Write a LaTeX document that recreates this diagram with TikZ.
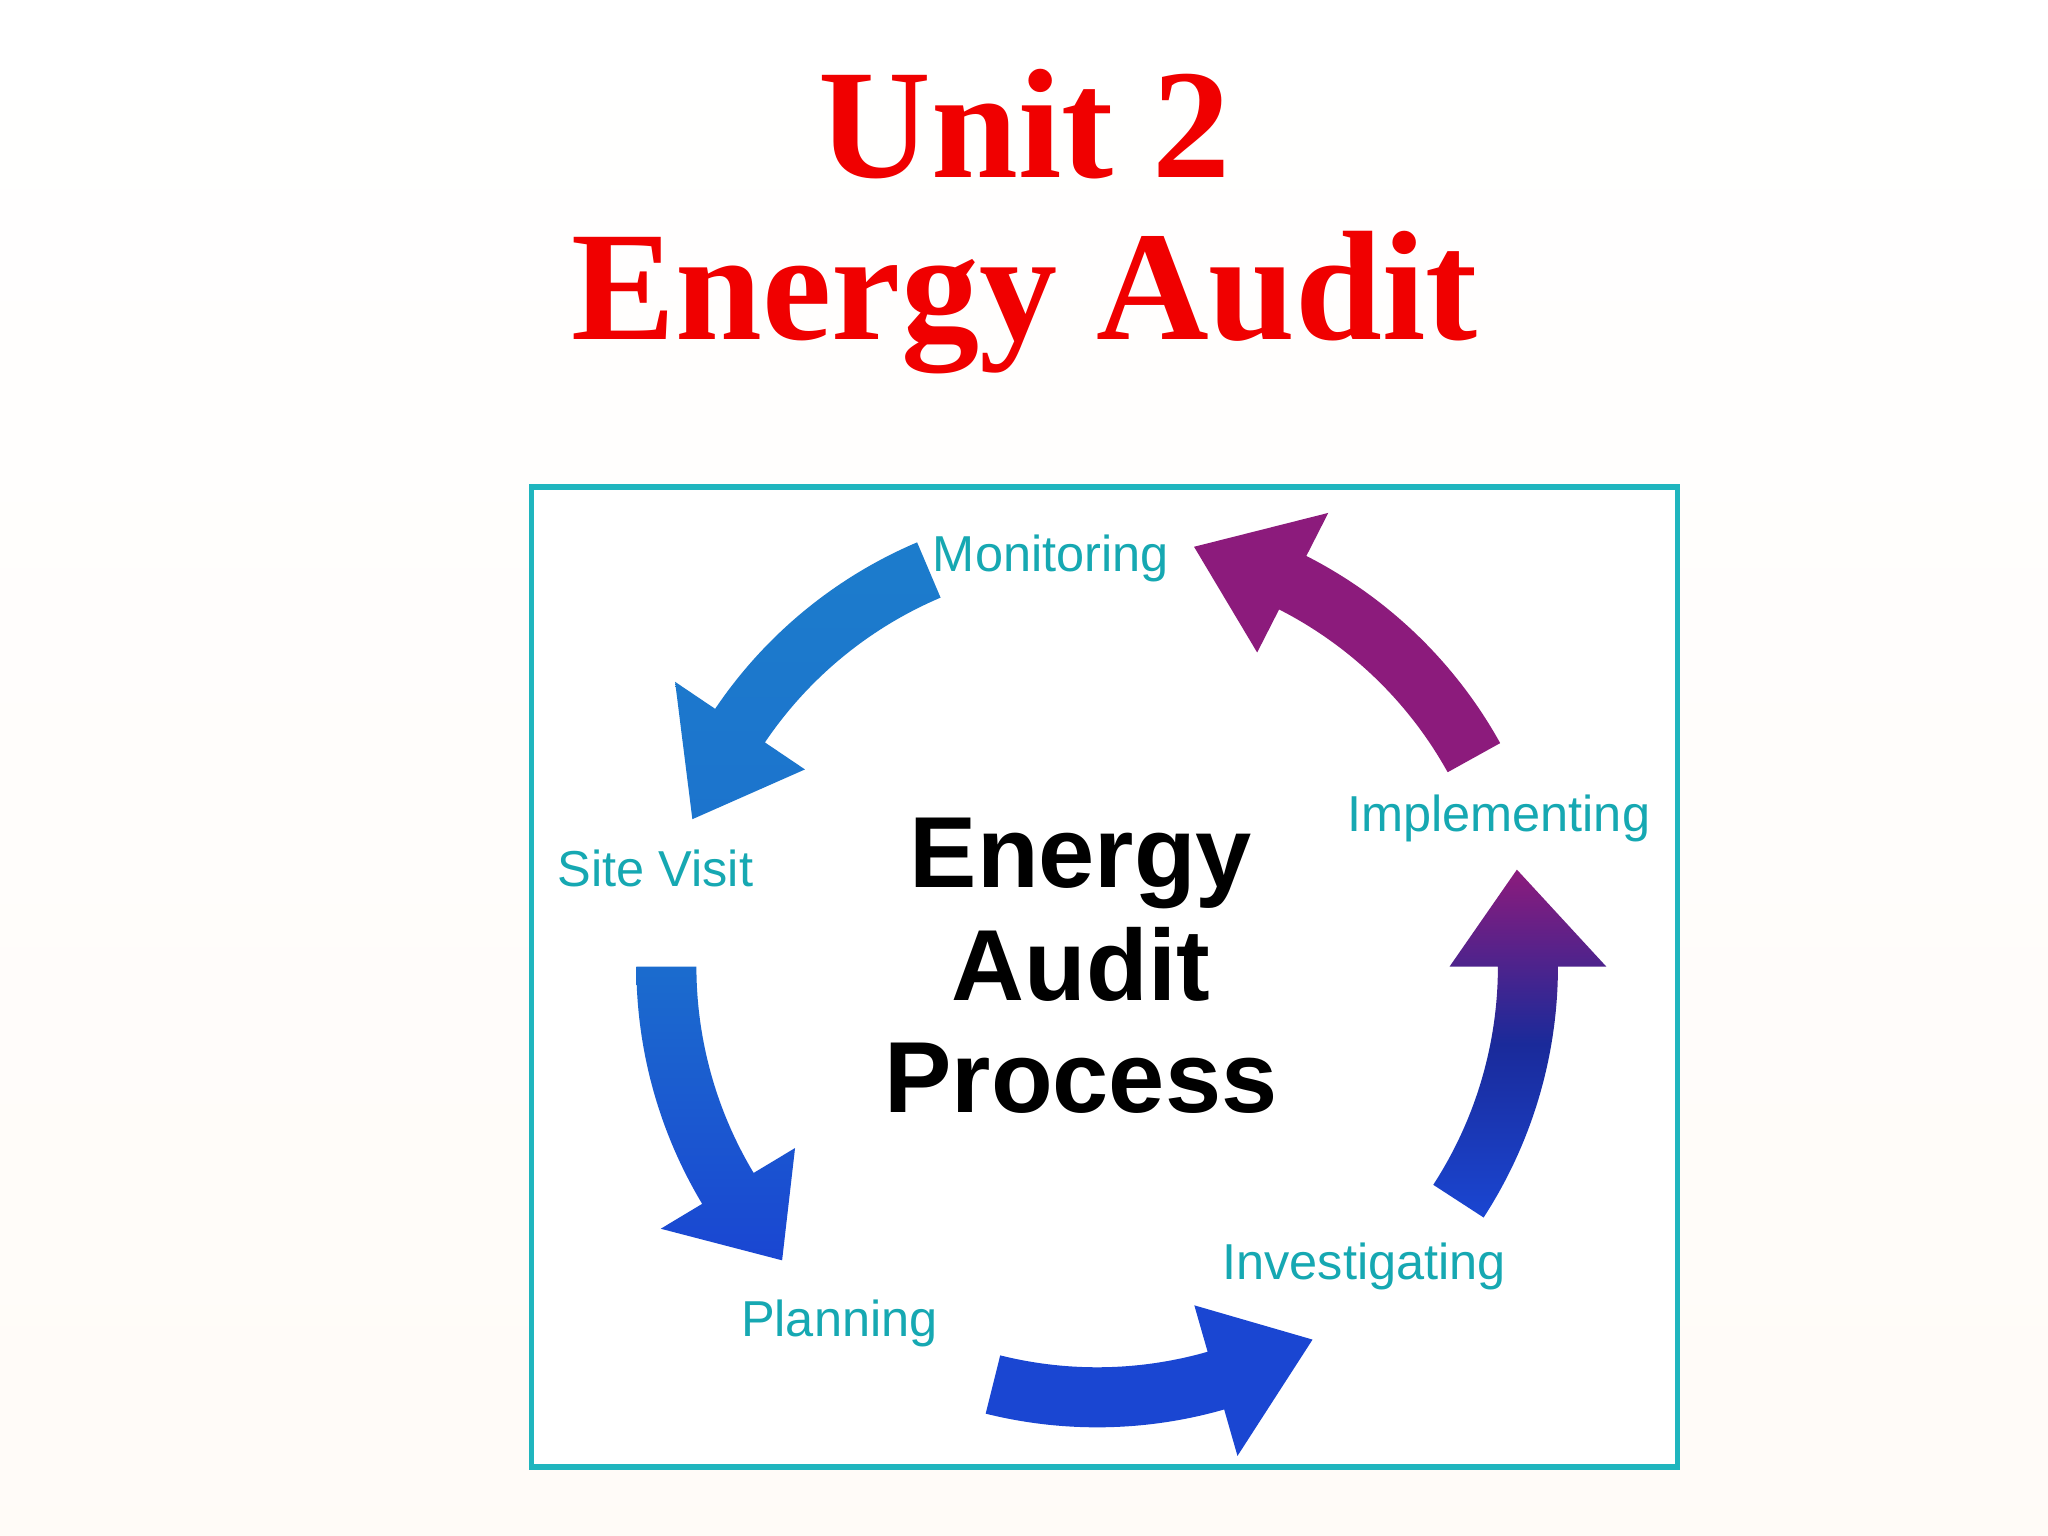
\documentclass[tikz,border=0pt]{standalone}
\usepackage{fontspec}
\setmainfont{Liberation Serif}
\setsansfont{Liberation Sans}
\definecolor{teal1}{HTML}{1FB5BE}
\definecolor{lbl}{HTML}{16A8B2}
\definecolor{tred}{HTML}{F00000}
\definecolor{blueA}{HTML}{1C7CCC}
\definecolor{blueB}{HTML}{1A46D2}
\definecolor{purp}{HTML}{8C1B7C}
\definecolor{navy}{HTML}{1A2A9A}
\newcommand\arcarrow[4]{%
  \path[#4] (#1:307) -- (#1:353) arc[start angle=#1,end angle=#2,radius=353]
    -- (#2:390) -- (#3:330) -- (#2:270) -- (#2:307)
    arc[start angle=#2,end angle=#1,radius=307] -- cycle;}
\tikzset{lab/.style={text=lbl,font=\sffamily\fontsize{11pt}{13pt}\selectfont},
  ttl/.style={text=tred,font=\bfseries\fontsize{34pt}{38pt}\selectfont}}
\begin{document}
\begin{tikzpicture}
\shade[top color=white,bottom color=black!6!orange!3!white] (0,0) rectangle (15.68,-11.76);
\useasboundingbox (0,0) rectangle (15.68,-11.76);
\begin{scope}[x=0.01cm,y=-0.01cm]
\node[ttl] (t1) at (785,95) {Unit 2};
\node[ttl] (t2) at (785,232) {Energy Audit};
\draw[teal1,line width=1.2pt,fill=white] (407,373) rectangle (1285,1124);
\node[lab] (mon) at (805,428) {Monitoring};
\node[lab] (imp) at (1148,627) {Implementing};
\node[lab] (site) at (502,665) {Site Visit};
\node[lab] (plan) at (643,1014) {Planning};
\node[lab] (inv) at (1045,970) {Investigating};
\node[font=\sffamily\bfseries\fontsize{22pt}{24.5pt}\selectfont,align=center] (ctr) at (828,740) {Energy\\Audit\\Process};
\end{scope}
\begin{scope}[shift={(8.40,-7.40)},x=0.01cm,y=0.01cm]
\arcarrow{113}{146}{160}{top color=blueA,bottom color=blueA!85!blueB}
\arcarrow{180}{211}{223}{top color=blueA!70!blueB,bottom color=blueB}
\arcarrow{256}{286}{300}{fill=blueB}
\arcarrow{327}{360}{373}{top color=purp,bottom color=blueB,middle color=navy}
\arcarrow{29}{63}{77}{fill=purp}
\end{scope}
\end{tikzpicture}
\end{document}
